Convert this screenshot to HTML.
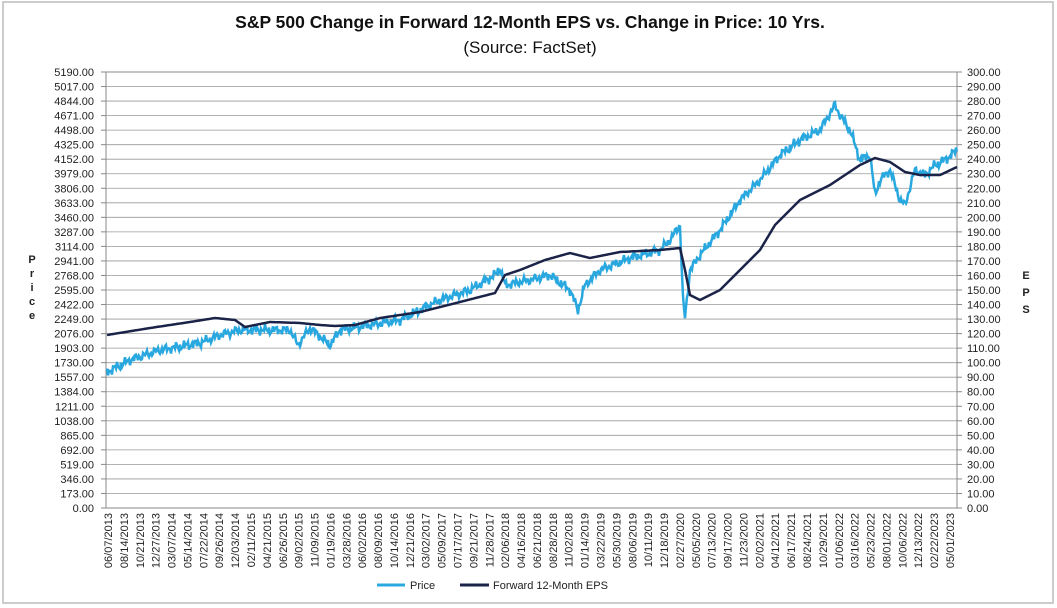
<!DOCTYPE html>
<html><head><meta charset="utf-8"><style>
body{margin:0;background:#fff;}
svg{display:block;font-family:"Liberation Sans",Arial,sans-serif;}
</style></head><body>
<svg id="s" width="1057" height="608" viewBox="0 0 1057 608" xmlns="http://www.w3.org/2000/svg">
<rect x="3" y="2" width="1050" height="601" fill="#fff" stroke="#bbb" stroke-width="1.5"/>
<text x="530" y="28" text-anchor="middle" font-size="17.5" font-weight="bold" fill="#111">S&amp;P 500 Change in Forward 12-Month EPS vs. Change in Price: 10 Yrs.</text>
<text x="530" y="53" text-anchor="middle" font-size="17" fill="#111">(Source: FactSet)</text>
<g id="g"></g>
<text font-size="11" font-weight="bold" fill="#222" text-anchor="middle"><tspan x="32" y="263">P</tspan><tspan x="32" y="277">r</tspan><tspan x="32" y="291">i</tspan><tspan x="32" y="305">c</tspan><tspan x="32" y="319">e</tspan></text>
<text font-size="11" font-weight="bold" fill="#222" text-anchor="middle"><tspan x="1026" y="279">E</tspan><tspan x="1026" y="296">P</tspan><tspan x="1026" y="313">S</tspan></text>
<line x1="377" y1="585" x2="405" y2="585" stroke="#29a8e0" stroke-width="3"/>
<text x="410" y="589" font-size="11" fill="#222">Price</text>
<line x1="460" y1="585" x2="489" y2="585" stroke="#1b2448" stroke-width="3"/>
<text x="493" y="589" font-size="11" fill="#222">Forward 12-Month EPS</text>
</svg>
<script>
var g=document.getElementById('g'),ns='http://www.w3.org/2000/svg',h='';
var L=106,R=957,T=72,B=508;
for(var i=0;i<=30;i++){var y=T+(B-T)*i/30;
h+='<line x1="'+L+'" y1="'+y+'" x2="'+R+'" y2="'+y+'" stroke="#999" stroke-width="0.8"/>';
h+='<line x1="'+(L-5)+'" y1="'+y+'" x2="'+L+'" y2="'+y+'" stroke="#888"/>';
h+='<line x1="'+R+'" y1="'+y+'" x2="'+(R+5)+'" y2="'+y+'" stroke="#888"/>';
var pv=(5190-173*i).toFixed(2),ev=(300-10*i).toFixed(2);
h+='<text x="94" y="'+(y+4)+'" text-anchor="end" font-size="11" fill="#222">'+pv+'</text>';
h+='<text x="967" y="'+(y+4)+'" font-size="11" fill="#222">'+ev+'</text>';}
h+='<rect x="'+L+'" y="'+T+'" width="'+(R-L)+'" height="'+(B-T)+'" fill="none" stroke="#888"/>';
var d="06/07/2013 08/14/2013 10/21/2013 12/27/2013 03/07/2014 05/14/2014 07/22/2014 09/26/2014 12/03/2014 02/11/2015 04/21/2015 06/26/2015 09/02/2015 11/09/2015 01/19/2016 03/28/2016 06/02/2016 08/09/2016 10/14/2016 12/21/2016 03/02/2017 05/09/2017 07/17/2017 09/21/2017 11/28/2017 02/06/2018 04/16/2018 06/21/2018 08/28/2018 11/02/2018 01/14/2019 03/22/2019 05/30/2019 08/06/2019 10/11/2019 12/18/2019 02/27/2020 05/05/2020 07/13/2020 09/17/2020 11/23/2020 02/02/2021 04/12/2021 06/17/2021 08/24/2021 10/29/2021 01/06/2022 03/16/2022 05/23/2022 08/01/2022 10/06/2022 12/13/2022 02/22/2023 05/01/2023".split(' ');
var n=d.length;
for(var k=0;k<n;k++){var x=108+(950-108)*k/(n-1)+4;
h+='<text transform="translate('+x+',513) rotate(-90)" text-anchor="end" font-size="11" fill="#222">'+d[k]+'</text>';}
function interp(p){var out=[];for(var x=p[0][0];x<=p[p.length-1][0];x+=1){for(var j=0;j<p.length-1;j++)if(x>=p[j][0]&&x<=p[j+1][0])break;var a=p[j],b=p[j+1];var t=(x-a[0])/(b[0]-a[0]||1);out.push([x,a[1]+(b[1]-a[1])*t]);}return out;}
var P=[[107,372],[130,360],[160,350],[200,343],[220,335],[240,330],[260,330],[290,330],[298,345],[310,328],[330,345],[340,330],[370,325],[400,320],[420,310],[440,300],[470,290],[495,275],[500,268],[505,285],[530,280],[550,275],[570,290],[578,310],[585,285],[600,270],[630,258],[660,250],[670,240],[680,225],[683,300],[685,318],[690,270],[700,255],[720,230],[740,200],[760,180],[780,155],[800,140],[820,130],[835,105],[840,115],[850,130],[860,160],[870,155],[875,195],[880,180],[890,170],[900,200],[905,205],[915,170],[925,175],[935,165],[945,160],[957,150]];
var E=[[107,335],[150,328],[190,322],[215,318],[235,320],[245,327],[270,322],[300,323],[320,325],[335,326],[355,325],[380,318],[420,312],[460,302],[495,293],[505,275],[520,270],[545,260],[570,253],[590,258],[620,252],[660,250],[680,248],[685,270],[690,295],[700,300],[720,290],[740,270],[760,250],[775,225],[790,210],[800,200],[830,185],[860,165],[875,158],[890,162],[905,172],[920,175],[940,175],[957,167]];
var pp=interp(P).map(function(q){var x=q[0];return q[0]+','+(q[1]+2.5*Math.sin(x*1.7)+2*Math.sin(x*0.63+1)+1.5*Math.sin(x*3.1)).toFixed(1);}).join(' ');
var ep=interp(E).map(function(q){return q[0]+','+q[1].toFixed(1);}).join(' ');
h+='<polyline points="'+pp+'" fill="none" stroke="#29a8e0" stroke-width="2.5"/>';
h+='<polyline points="'+ep+'" fill="none" stroke="#1b2448" stroke-width="2.5"/>';
g.innerHTML=h;
</script>
</body></html>
